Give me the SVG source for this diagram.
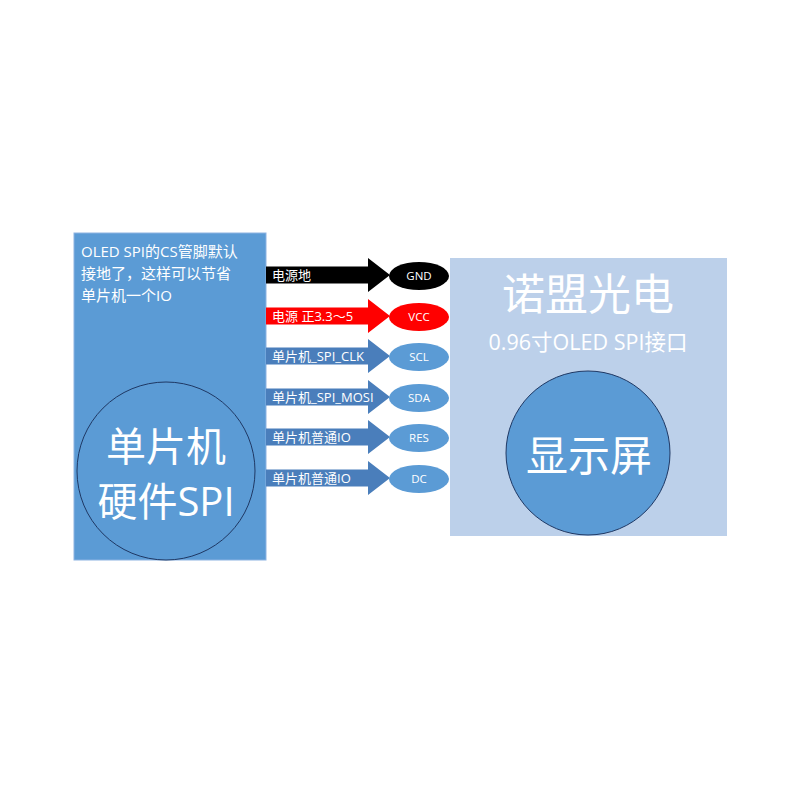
<svg xmlns="http://www.w3.org/2000/svg" width="800" height="800" viewBox="0 0 800 800">
<defs>
<style>
.t{font-family:"Open Sans","Noto Sans CJK SC",sans-serif;fill:#fff}
.lbl{font-size:13px}
.pin{font-size:11.5px;text-anchor:middle}
.blue{fill:#4A7EBB}
.ell{fill:#5B9BD5}
</style>
<path id="arr" d="M0,-8.5 H102 V-17 L124,0 L102,17 V8.5 H0 Z"/>
</defs>
<rect width="800" height="800" fill="#fff"/>
<g id="mcu">
<rect x="74" y="233" width="192" height="327" fill="#5B9BD5" stroke="#8DB3E2" stroke-width="1"/>
<text class="t" x="81" y="257" font-size="15">OLED SPI的CS管脚默认</text>
<text class="t" x="81" y="279" font-size="15">接地了，这样可以节省</text>
<text class="t" x="81" y="301" font-size="15">单片机一个IO</text>
<circle cx="166" cy="471" r="89" fill="#5B9BD5" stroke="#1F3864" stroke-width="1"/>
<text class="t" x="166" y="461" font-size="40" text-anchor="middle">单片机</text>
<text class="t" x="166" y="516" font-size="40" text-anchor="middle">硬件SPI</text>
</g>
<g id="oled">
<rect x="450" y="258" width="277" height="278" fill="#BCD0EA"/>
<text class="t" x="588" y="310" font-size="43" text-anchor="middle">诺盟光电</text>
<text class="t" x="588" y="350" font-size="21.5" text-anchor="middle">0.96寸OLED SPI接口</text>
<circle cx="588" cy="453" r="82" fill="#5B9BD5" stroke="#1F3864" stroke-width="1"/>
<text class="t" x="589" y="471" font-size="42" text-anchor="middle">显示屏</text>
</g>
<g id="connectors">
<use href="#arr" x="266" y="275" fill="#000"/>
<use href="#arr" x="266" y="316" fill="#FF0000"/>
<use href="#arr" x="266" y="356" class="blue"/>
<use href="#arr" x="266" y="397" class="blue"/>
<use href="#arr" x="266" y="437" class="blue"/>
<use href="#arr" x="266" y="478" class="blue"/>
<text class="t lbl" x="272" y="280">电源地</text>
<text class="t lbl" x="272" y="321">电源 正3.3～5</text>
<text class="t lbl" x="272" y="361">单片机_SPI_CLK</text>
<text class="t lbl" x="272" y="402">单片机_SPI_MOSI</text>
<text class="t lbl" x="272" y="442">单片机普通IO</text>
<text class="t lbl" x="272" y="483">单片机普通IO</text>
</g>
<g id="pin-gnd"><ellipse cx="419" cy="276" rx="30" ry="14" fill="#000"/><text class="t pin" x="419" y="280">GND</text></g>
<g id="pin-vcc"><ellipse cx="419" cy="317" rx="30" ry="14" fill="#FF0000"/><text class="t pin" x="419" y="321">VCC</text></g>
<g id="pin-scl"><ellipse cx="419" cy="357" rx="30" ry="14" class="ell"/><text class="t pin" x="419" y="361">SCL</text></g>
<g id="pin-sda"><ellipse cx="419" cy="398" rx="30" ry="14" class="ell"/><text class="t pin" x="419" y="402">SDA</text></g>
<g id="pin-res"><ellipse cx="419" cy="438" rx="30" ry="14" class="ell"/><text class="t pin" x="419" y="442">RES</text></g>
<g id="pin-dc"><ellipse cx="419" cy="479" rx="30" ry="14" class="ell"/><text class="t pin" x="419" y="483">DC</text></g>
</svg>
